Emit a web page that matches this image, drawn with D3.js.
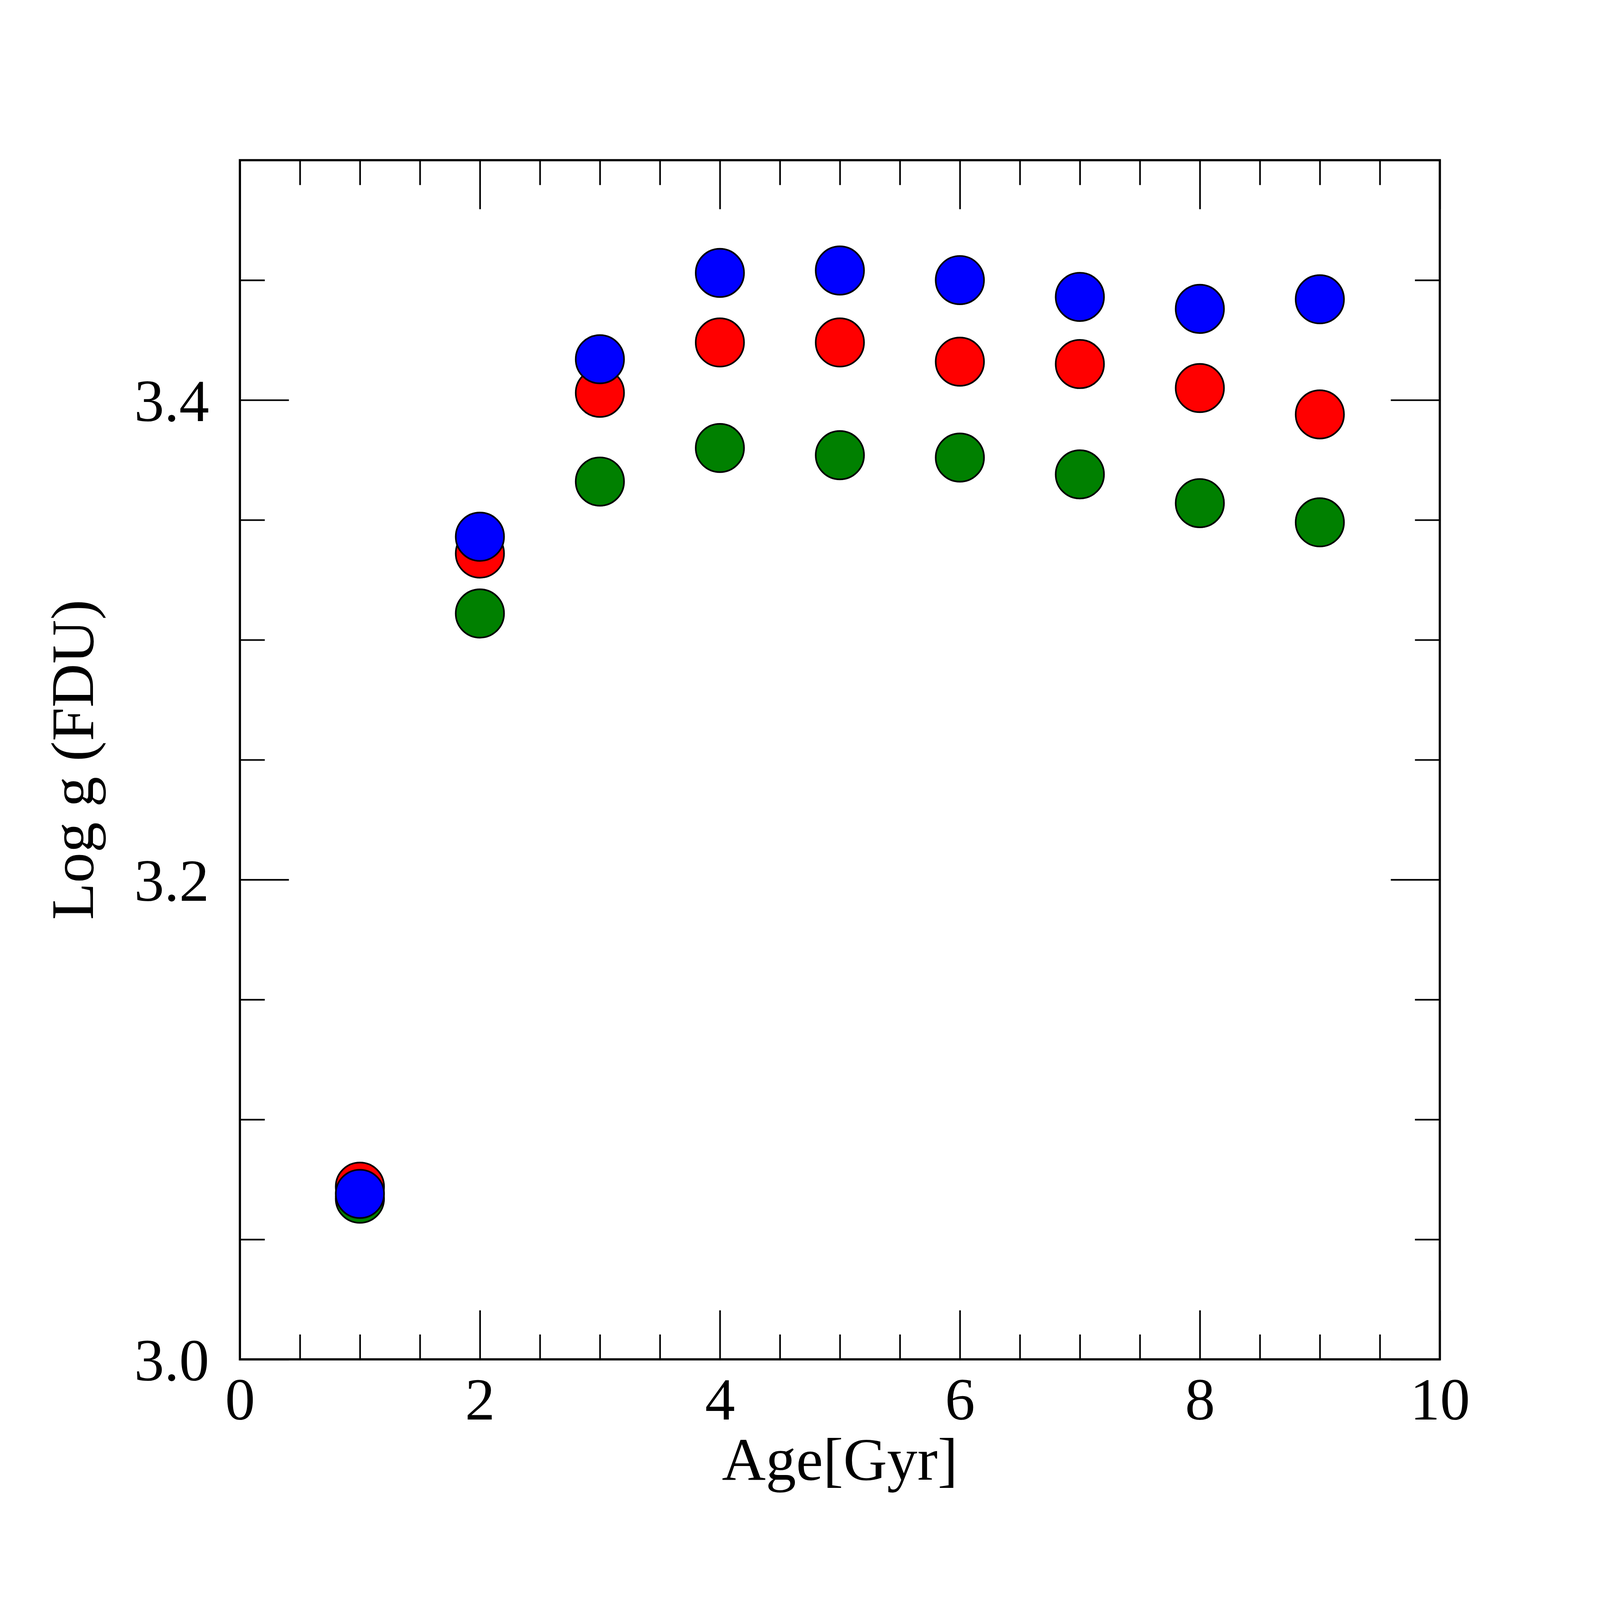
<!DOCTYPE html>
<html>
<head>
<meta charset="utf-8">
<script src="https://cdn.jsdelivr.net/npm/d3@7"></script>
<style>
  html, body { margin: 0; padding: 0; background: #fff; overflow: hidden; }
  svg { display: block; }
</style>
</head>
<body>
<div id="chart"></div>
<script>
// Data
const ages = [1, 2, 3, 4, 5, 6, 7, 8, 9];
const greenSeries = [3.067, 3.311, 3.366, 3.380, 3.377, 3.376, 3.369, 3.357, 3.349];
const redSeries   = [3.072, 3.336, 3.403, 3.424, 3.424, 3.416, 3.415, 3.405, 3.394];
const blueSeries  = [3.069, 3.343, 3.417, 3.453, 3.454, 3.450, 3.443, 3.438, 3.442];

const xMajorTicks = [0, 2, 4, 6, 8, 10];
const xMinorTicks = [0.5, 1, 1.5, 2.5, 3, 3.5, 4.5, 5, 5.5, 6.5, 7, 7.5, 8.5, 9, 9.5];
const yMajorTicks = [3.0, 3.2, 3.4];
const yMinorTicks = [3.05, 3.1, 3.15, 3.25, 3.3, 3.35, 3.45];

const series = [
    { name: "green", color: "#008000", values: greenSeries },
    { name: "red", color: "#ff0000", values: redSeries },
    { name: "blue", color: "#0000ff", values: blueSeries }
];

// Dimensions (drawn in a 4375 x 4375 user space, scaled to the window)
const W = 4375, H = 4375;
const margin = { top: 438, right: 438, bottom: 658, left: 656 };
const width = W - margin.left - margin.right;
const height = H - margin.top - margin.bottom;
const font = "'Liberation Serif', 'Times New Roman', serif";
const majorLen = 134, minorLen = 68;

const svg = d3.select("#chart")
    .append("svg")
    .attr("viewBox", `0 0 ${W} ${H}`)
    .attr("preserveAspectRatio", "xMidYMid meet")
    .style("width", "100vw")
    .style("height", "100vh")
    .style("background", "#fff");

const g = svg.append("g")
    .attr("transform", `translate(${margin.left},${margin.top})`);

const x = d3.scaleLinear().domain([0, 10]).range([0, width]);
const y = d3.scaleLinear().domain([3.0, 3.5]).range([height, 0]);

function styleAxis(sel) {
    sel.select(".domain").remove();
    sel.selectAll(".tick line").attr("stroke", "#000").attr("stroke-width", 4.5);
    sel.selectAll(".tick text")
        .attr("fill", "#000")
        .style("font-family", font)
        .style("font-size", "164px");
}

// Bottom axis (labels)
g.append("g")
    .attr("transform", `translate(0,${height})`)
    .call(d3.axisBottom(x).tickValues(xMajorTicks).tickSize(-majorLen).tickPadding(48).tickFormat(d3.format("d")))
    .call(styleAxis);
g.append("g")
    .attr("transform", `translate(0,${height})`)
    .call(d3.axisBottom(x).tickValues(xMinorTicks).tickSize(-minorLen).tickFormat(""))
    .call(styleAxis);

// Top axis (mirror)
g.append("g")
    .call(d3.axisTop(x).tickValues(xMajorTicks).tickSize(-majorLen).tickFormat(""))
    .call(styleAxis);
g.append("g")
    .call(d3.axisTop(x).tickValues(xMinorTicks).tickSize(-minorLen).tickFormat(""))
    .call(styleAxis);

// Left axis (labels)
g.append("g")
    .call(d3.axisLeft(y).tickValues(yMajorTicks).tickSize(-majorLen).tickPadding(84).tickFormat(d3.format(".1f")))
    .call(styleAxis)
    .selectAll(".tick text").attr("dy", "0.35em");
g.append("g")
    .call(d3.axisLeft(y).tickValues(yMinorTicks).tickSize(-minorLen).tickFormat(""))
    .call(styleAxis);

// Right axis (mirror)
g.append("g")
    .attr("transform", `translate(${width},0)`)
    .call(d3.axisRight(y).tickValues(yMajorTicks).tickSize(-majorLen).tickFormat(""))
    .call(styleAxis);
g.append("g")
    .attr("transform", `translate(${width},0)`)
    .call(d3.axisRight(y).tickValues(yMinorTicks).tickSize(-minorLen).tickFormat(""))
    .call(styleAxis);

// Frame
g.append("rect")
    .attr("width", width)
    .attr("height", height)
    .attr("fill", "none")
    .attr("stroke", "#000")
    .attr("stroke-width", 6);

// Points: green, then red, then blue on top
series.forEach(s => {
    g.append("g")
        .selectAll("circle")
        .data(ages.map((a, i) => ({ age: a, v: s.values[i] })))
        .enter()
        .append("circle")
        .attr("cx", d => x(d.age))
        .attr("cy", d => y(d.v))
        .attr("r", 66)
        .attr("fill", s.color)
        .attr("stroke", "#000")
        .attr("stroke-width", 4.5);
});

// Axis labels
svg.append("text")
    .attr("x", margin.left + width / 2)
    .attr("y", 4046)
    .attr("text-anchor", "middle")
    .style("font-family", font)
    .style("font-size", "166px")
    .text("Age[Gyr]");

svg.append("text")
    .attr("transform", `translate(254,${margin.top + height / 2}) rotate(-90)`)
    .attr("text-anchor", "middle")
    .style("font-family", font)
    .style("font-size", "166px")
    .text("Log g (FDU)");
</script>
</body>
</html>
